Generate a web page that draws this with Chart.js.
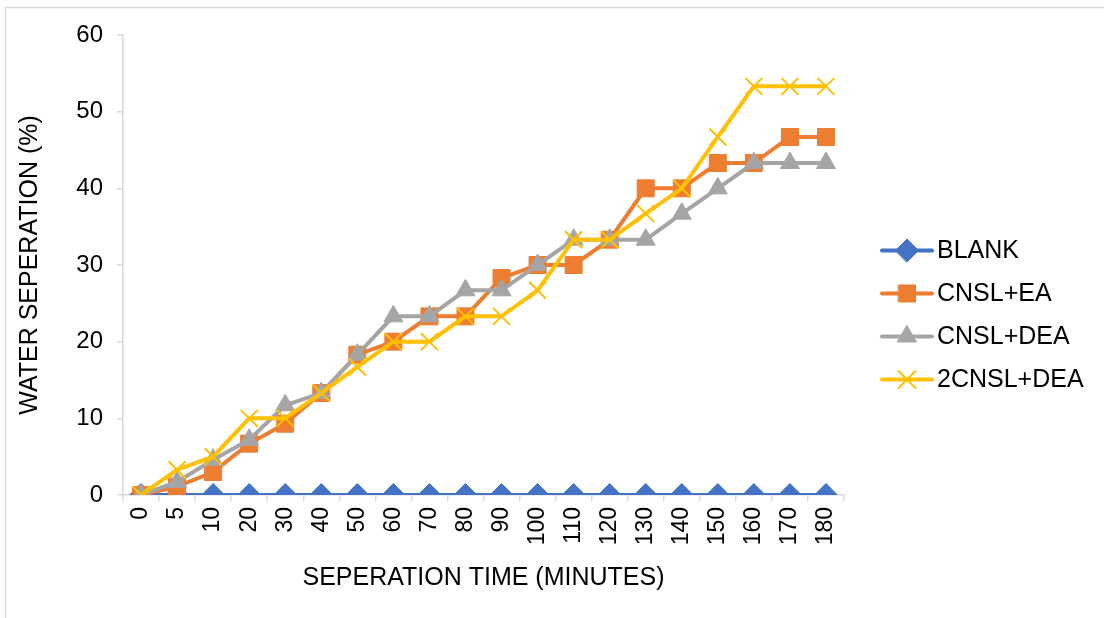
<!DOCTYPE html>
<html>
<head>
<meta charset="utf-8">
<script src="https://cdn.jsdelivr.net/npm/chart.js@4/dist/chart.umd.min.js"></script>
<style>
  html, body { margin: 0; padding: 0; background: #fff; }
  #wrap { width: 1104px; height: 618px; }
</style>
</head>
<body>
<div id="wrap"><canvas id="chart" width="1104" height="618"></canvas></div>
<script>
// separation time (minutes)
const minutes = ['0', '5', '10', '20', '30', '40', '50', '60', '70', '80', '90', '100', '110', '120', '130', '140', '150', '160', '170', '180'];

// water separation (%)
const blank    = [0, 0, 0, 0, 0, 0, 0, 0, 0, 0, 0, 0, 0, 0, 0, 0, 0, 0, 0, 0];
const cnslEa   = [0, 1.1, 3, 6.7, 9.3, 13.3, 18.3, 20, 23.3, 23.3, 28.3, 30, 30, 33.3, 40, 40, 43.3, 43.3, 46.7, 46.7];
const cnslDea  = [0, 1.7, 4.6, 7.2, 11.7, 13.3, 18.3, 23.3, 23.3, 26.7, 26.7, 30, 33.3, 33.3, 33.3, 36.7, 40, 43.3, 43.3, 43.3];
const cnsl2Dea = [0, 3.3, 5, 10, 10, 13.3, 16.7, 20, 20, 23.3, 23.3, 26.7, 33.3, 33.3, 36.7, 40, 46.7, 53.3, 53.3, 53.3];

const seriesNames = ['BLANK', 'CNSL+EA', 'CNSL+DEA', '2CNSL+DEA'];
const yTicks = [0, 10, 20, 30, 40, 50, 60];

const FONT = "'Liberation Sans', Arial, sans-serif";
const AXIS = '#d9d9d9';

function series(label, data, color, style, radius, bw, order) {
    return {
        label: label,
        data: data,
        borderColor: color,
        backgroundColor: color,
        borderWidth: 4,
        pointStyle: style,
        pointRadius: radius,
        pointHoverRadius: radius,
        pointBorderWidth: bw,
        pointBorderColor: color,
        pointBackgroundColor: color,
        tension: 0,
        order: order
    };
}

const datasets = [
    series(seriesNames[0], blank,    '#4472c4', 'rectRot',  11.5, 1, 4),
    series(seriesNames[1], cnslEa,   '#ed7d31', 'rect',     12,  1, 3),
    series(seriesNames[2], cnslDea,  '#a5a5a5', 'triangle', 11, 1, 2),
    series(seriesNames[3], cnsl2Dea, '#ffc000', 'crossRot', 12,  2, 1)
];

// light frame round the chart (left and top edges only visible)
const framePlugin = {
    id: 'frame',
    beforeDraw(chart) {
        const c = chart.ctx;
        c.save();
        c.strokeStyle = AXIS;
        c.lineWidth = 1.5;
        c.beginPath();
        c.moveTo(5.5, chart.height);
        c.lineTo(5.5, 7.5);
        c.lineTo(chart.width, 7.5);
        c.stroke();
        c.restore();
    }
};

// legend: line with marker, then the name, stacked on the right
const legendPlugin = {
    id: 'lineLegend',
    afterDraw(chart) {
        const c = chart.ctx;
        const area = chart.chartArea;
        const x0 = area.right + 38;
        const midY = (area.top + area.bottom) / 2 + 50;
        const step = 43;
        c.save();
        chart.data.datasets.forEach((ds, i) => {
            const y = midY + (i - 1.5) * step;
            c.strokeStyle = ds.borderColor;
            c.lineWidth = 4;
            c.lineCap = 'round';
            c.beginPath();
            c.moveTo(x0, y);
            c.lineTo(x0 + 50, y);
            c.stroke();
            c.fillStyle = ds.pointBackgroundColor;
            c.strokeStyle = ds.pointBorderColor;
            c.lineWidth = ds.pointBorderWidth;
            Chart.helpers.drawPoint(c, {
                pointStyle: ds.pointStyle,
                radius: ds.pointRadius,
                rotation: 0,
                borderWidth: ds.pointBorderWidth
            }, x0 + 25, y);
            c.fillStyle = '#000';
            c.font = '25px ' + FONT;
            c.textAlign = 'left';
            c.textBaseline = 'middle';
            c.fillText(ds.label, x0 + 55, y + 1);
        });
        c.restore();
    }
};

new Chart(document.getElementById('chart').getContext('2d'), {
    type: 'line',
    data: { labels: minutes, datasets: datasets },
    plugins: [framePlugin, legendPlugin],
    options: {
        responsive: false,
        animation: false,
        layout: { padding: { top: 35, right: 260, left: 0, bottom: 0 } },
        plugins: {
            legend: { display: false },
            tooltip: { enabled: false },
            title: { display: false }
        },
        scales: {
            x: {
                type: 'category',
                offset: true,
                afterFit: s => { s.height = 123; },
                border: { display: true, color: AXIS, width: 1.5 },
                grid: { offset: true, drawOnChartArea: false, drawTicks: true, tickLength: 6, color: AXIS, lineWidth: 1.5 },
                ticks: {
                    color: '#000',
                    font: { family: FONT, size: 23 },
                    minRotation: 90,
                    maxRotation: 90,
                    autoSkip: false,
                    padding: 6
                },
                title: {
                    display: true,
                    text: 'SEPERATION TIME (MINUTES)',
                    color: '#000',
                    font: { family: FONT, size: 25 },
                    padding: { top: 0, bottom: 25 }
                }
            },
            y: {
                min: yTicks[0],
                max: yTicks[yTicks.length - 1],
                afterFit: s => { s.width = 123; },
                afterBuildTicks: s => { s.ticks = yTicks.map(v => ({ value: v })); },
                border: { display: true, color: AXIS, width: 1.5 },
                grid: { drawOnChartArea: false, drawTicks: true, tickLength: 6, color: AXIS, lineWidth: 1.5 },
                ticks: {
                    color: '#000',
                    font: { family: FONT, size: 24 },
                    padding: 14
                },
                title: {
                    display: true,
                    text: 'WATER SEPERATION (%)',
                    color: '#000',
                    font: { family: FONT, size: 25 },
                    padding: { top: 15, bottom: 0 }
                }
            }
        }
    }
});
</script>
</body>
</html>
